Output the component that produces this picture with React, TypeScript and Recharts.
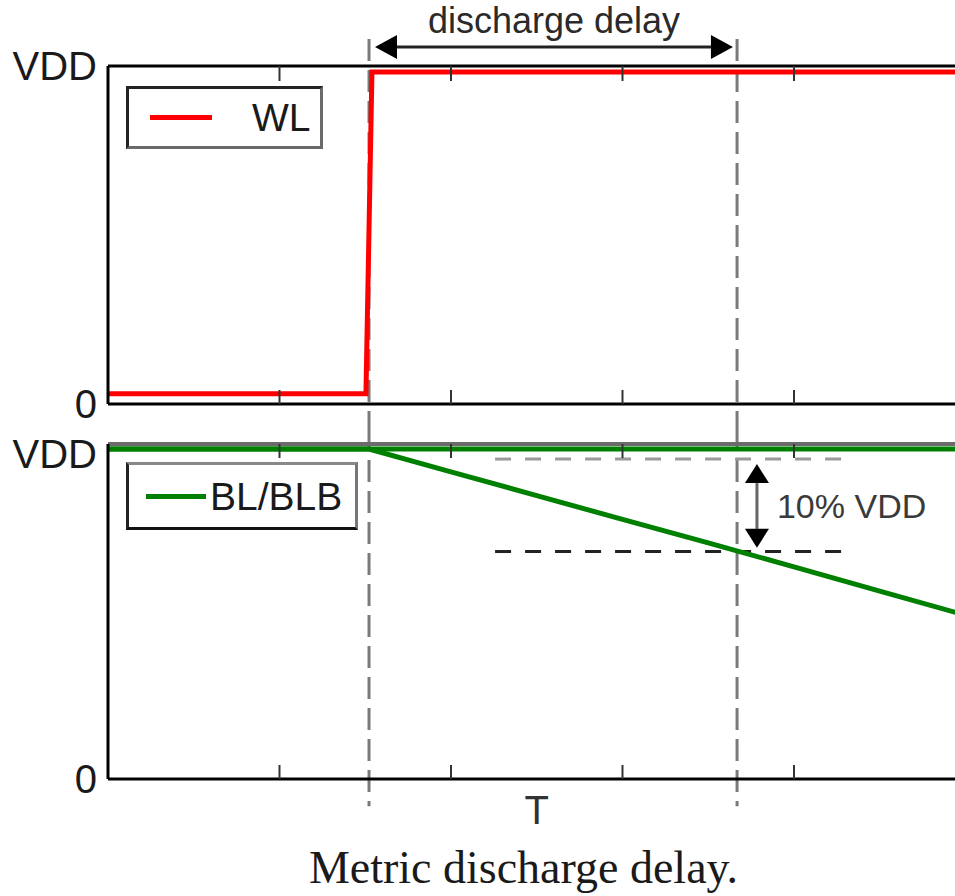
import React from "react";
import {
  LineChart,
  Line,
  XAxis,
  YAxis,
  ReferenceLine,
  Legend,
} from "recharts";

// time axis: 5 equal divisions, plot runs past the right edge of the picture
const timeTicks = [0, 1, 2, 3, 4, 5];
const levelTicks = [0, 1];

// word line: low, then a fast rise just after t = 1.5
const wlTime = [0, 1.504, 1.539, 5];
const wlLevel = [0.03, 0.03, 0.982, 0.982];

// bit lines: BLB stays at VDD, BL discharges after WL rises
const blTime = [0, 1.522, 2, 2.5, 3, 3.5, 4, 4.5, 5];
const blLevel = [0.985, 0.985, 0.917, 0.846, 0.775, 0.705, 0.633, 0.561, 0.489];
const blbLevel = [0.985, 0.985, 0.985, 0.985, 0.985, 0.985, 0.985, 0.985, 0.985];

// markers
const wlRiseT = 1.522;
const crossT = 3.668;
const delayArrow = { from: 1.557, to: 3.644, level: 1.0565 };
const pctArrow = { t: 3.784, top: 0.94, bottom: 0.69 };
const refLevels = { start: 0.955, crossed: 0.679, from: 2.257, to: 4.327 };

const wlData = wlTime.map((t, i) => ({ t, wl: wlLevel[i] }));
const blData = blTime.map((t, i) => ({ t, bl: blLevel[i], blb: blbLevel[i] }));

const FONT = '"Liberation Sans", Arial, sans-serif';
const W = 1100;
const MARGIN_RIGHT = 134.5;

function arrowShape(len: number, half: number, color: string) {
  return (p: any) => {
    const { x1, y1, x2, y2 } = p;
    const dx = x2 - x1;
    const dy = y2 - y1;
    const d = Math.hypot(dx, dy) || 1;
    const ux = dx / d;
    const uy = dy / d;
    const nx = -uy;
    const ny = ux;
    const head = (tx: number, ty: number, dir: number) => {
      const bx = tx - dir * ux * len;
      const by = ty - dir * uy * len;
      return `${tx},${ty} ${bx + nx * half},${by + ny * half} ${bx - nx * half},${by - ny * half}`;
    };
    return (
      <g>
        <line
          x1={x1 + ux * len}
          y1={y1 + uy * len}
          x2={x2 - ux * len}
          y2={y2 - uy * len}
          stroke={color}
          strokeWidth={3}
        />
        <polygon points={head(x1, y1, -1)} fill="#000" />
        <polygon points={head(x2, y2, 1)} fill="#000" />
      </g>
    );
  };
}

function legendBox(color: string, label: string, box: any) {
  return () => (
    <div
      style={{
        boxSizing: "border-box",
        width: box.w,
        height: box.h,
        background: "#fff",
        borderStyle: "solid",
        borderWidth: 3,
        borderColor: box.border,
        display: "flex",
        alignItems: "center",
        paddingLeft: box.pad,
        fontFamily: FONT,
        fontSize: 39,
        lineHeight: 1,
        color: "#1a1a1a",
      }}
    >
      <span
        style={{
          display: "inline-block",
          width: box.line,
          height: 5,
          background: color,
          marginRight: box.gap,
        }}
      />
      <span>{label}</span>
    </div>
  );
}

// time ticks carry no text, only the inward tick marks
const noLabel = () => <g />;

const yTick = { fontSize: 40, fill: "#1a1a1a", fontFamily: FONT };
const fmtLevel = (v: number) => (v === 1 ? "VDD" : "0");
const vDash = { stroke: "#7a7a7a", strokeWidth: 3, strokeDasharray: "22 9" };
const tickMark = { stroke: "#333", strokeWidth: 2 };

export default function App() {
  return (
    <div
      style={{
        position: "fixed",
        left: 0,
        top: 0,
        width: 955,
        height: 896,
        overflow: "hidden",
        background: "#fff",
      }}
    >
      {/* WL panel */}
      <div style={{ position: "absolute", left: 0, top: 0 }}>
        <LineChart
          width={W}
          height={430}
          data={wlData}
          margin={{ top: 66, right: MARGIN_RIGHT, bottom: 26, left: 0 }}
        >
          <XAxis
            dataKey="t"
            type="number"
            domain={[0, 5]}
            ticks={timeTicks}
            height={1}
            mirror
            tick={noLabel}
            tickSize={14}
            axisLine={{ stroke: "#000", strokeWidth: 3 }}
            tickLine={tickMark}
          />
          <XAxis
            xAxisId="top"
            orientation="top"
            dataKey="t"
            type="number"
            domain={[0, 5]}
            allowDataOverflow
            ticks={timeTicks}
            height={1}
            mirror
            tick={noLabel}
            tickSize={15}
            axisLine={{ stroke: "#000", strokeWidth: 3 }}
            tickLine={tickMark}
          />
          <YAxis
            type="number"
            domain={[0, 1]}
            ticks={levelTicks}
            width={108}
            tickFormatter={fmtLevel}
            tick={yTick}
            tickLine={false}
            tickSize={0}
            tickMargin={11}
            axisLine={{ stroke: "#000", strokeWidth: 3 }}
          />
          <ReferenceLine
            segment={[{ x: wlRiseT, y: 1.08 }, { x: wlRiseT, y: -0.08 }]}
            ifOverflow="visible"
            {...vDash}
          />
          <ReferenceLine
            segment={[{ x: crossT, y: 1.08 }, { x: crossT, y: -0.08 }]}
            ifOverflow="visible"
            {...vDash}
          />
          <ReferenceLine
            segment={[
              { x: delayArrow.from, y: delayArrow.level },
              { x: delayArrow.to, y: delayArrow.level },
            ]}
            ifOverflow="visible"
            shape={arrowShape(22, 12, "#222")}
            label={{
              value: "discharge delay",
              position: "top",
              offset: 14,
              fontSize: 36,
              fill: "#2a2a2a",
              fontFamily: FONT,
            }}
          />
          <Line
            dataKey="wl"
            name="WL"
            type="linear"
            stroke="#ff0000"
            strokeWidth={5}
            dot={false}
            isAnimationActive={false}
          />
          <Legend
            layout="horizontal"
            verticalAlign="middle"
            align="center"
            wrapperStyle={{ left: 126, top: 86, width: "auto" }}
            content={legendBox("#ff0000", "WL", {
              w: 197,
              h: 63,
              pad: 21,
              line: 62,
              gap: 40,
              border: "#222 #6a6a6a #6a6a6a #222",
            })}
          />
        </LineChart>
      </div>

      {/* BL/BLB panel */}
      <div style={{ position: "absolute", left: 0, top: 430 }}>
        <LineChart
          width={W}
          height={466}
          data={blData}
          margin={{ top: 14, right: MARGIN_RIGHT, bottom: 117, left: 0 }}
        >
          <XAxis
            dataKey="t"
            type="number"
            domain={[0, 5]}
            ticks={timeTicks}
            height={1}
            mirror
            tick={noLabel}
            tickSize={14}
            axisLine={{ stroke: "#000", strokeWidth: 3 }}
            tickLine={tickMark}
            label={{
              value: "T",
              position: "bottom",
              offset: 17,
              fontSize: 40,
              fill: "#333",
              fontFamily: FONT,
            }}
          />
          <XAxis
            xAxisId="top"
            orientation="top"
            dataKey="t"
            type="number"
            domain={[0, 5]}
            allowDataOverflow
            ticks={timeTicks}
            height={1}
            mirror
            tick={noLabel}
            tickSize={14}
            axisLine={{ stroke: "#6b6b6b", strokeWidth: 4 }}
            tickLine={tickMark}
          />
          <YAxis
            type="number"
            domain={[0, 1]}
            ticks={levelTicks}
            width={108}
            tickFormatter={fmtLevel}
            tick={yTick}
            tickLine={false}
            tickSize={0}
            tickMargin={11}
            axisLine={{ stroke: "#000", strokeWidth: 3 }}
          />
          <ReferenceLine
            segment={[{ x: wlRiseT, y: 1.045 }, { x: wlRiseT, y: -0.081 }]}
            ifOverflow="visible"
            {...vDash}
          />
          <ReferenceLine
            segment={[{ x: crossT, y: 1.045 }, { x: crossT, y: -0.081 }]}
            ifOverflow="visible"
            {...vDash}
          />
          <ReferenceLine
            segment={[
              { x: refLevels.from, y: refLevels.start },
              { x: refLevels.to, y: refLevels.start },
            ]}
            ifOverflow="visible"
            stroke="#9a9a9a"
            strokeWidth={3}
            strokeDasharray="16 14"
          />
          <ReferenceLine
            segment={[
              { x: refLevels.from, y: refLevels.crossed },
              { x: refLevels.to, y: refLevels.crossed },
            ]}
            ifOverflow="visible"
            stroke="#222"
            strokeWidth={3}
            strokeDasharray="16 14"
          />
          <ReferenceLine
            segment={[
              { x: pctArrow.t, y: pctArrow.top },
              { x: pctArrow.t, y: pctArrow.bottom },
            ]}
            ifOverflow="visible"
            shape={arrowShape(19, 12, "#666")}
            label={{
              value: "10% VDD",
              position: "right",
              offset: 20,
              fontSize: 34,
              fill: "#3a3a3a",
              fontFamily: FONT,
            }}
          />
          <Line
            dataKey="blb"
            name="BLB"
            type="linear"
            stroke="#008000"
            strokeWidth={5}
            dot={false}
            isAnimationActive={false}
          />
          <Line
            dataKey="bl"
            name="BL"
            type="linear"
            stroke="#008000"
            strokeWidth={5}
            dot={false}
            isAnimationActive={false}
          />
          <Legend
            layout="horizontal"
            verticalAlign="middle"
            align="center"
            wrapperStyle={{ left: 126, top: 32, width: "auto" }}
            content={legendBox("#008000", "BL/BLB", {
              w: 232,
              h: 68,
              pad: 17,
              line: 60,
              gap: 4,
              border: "#888 #777 #111 #222",
            })}
          />
        </LineChart>
      </div>

      <div
        style={{
          position: "absolute",
          left: 0,
          top: 845,
          width: 1047,
          textAlign: "center",
          fontFamily: '"Liberation Serif", "Times New Roman", serif',
          fontSize: 46,
          lineHeight: "46px",
          color: "#1a1a1a",
        }}
      >
        Metric discharge delay.
      </div>
    </div>
  );
}
